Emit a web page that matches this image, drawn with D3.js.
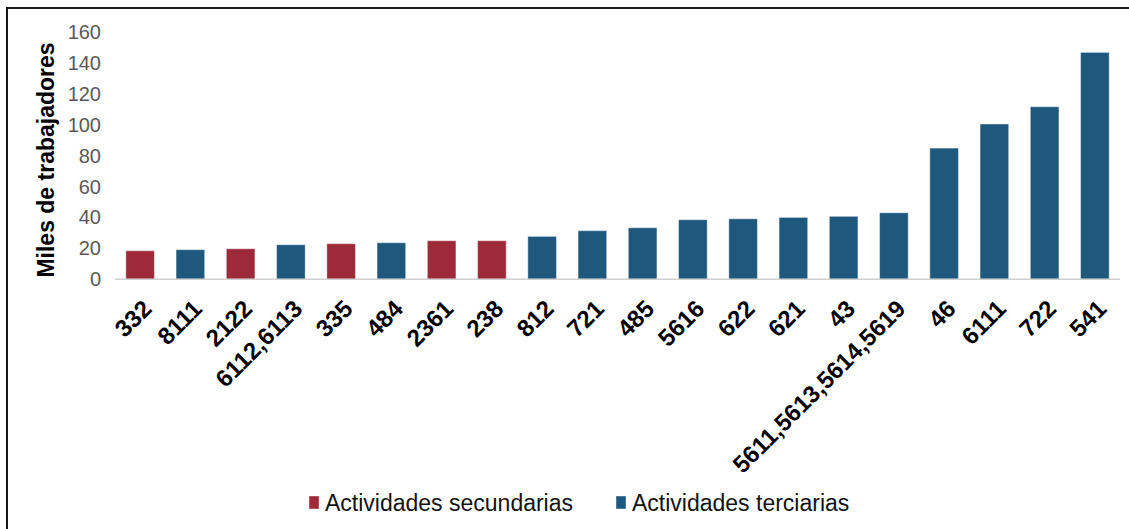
<!DOCTYPE html>
<html>
<head>
<meta charset="utf-8">
<script src="https://cdn.jsdelivr.net/npm/d3@7"></script>
<style>
  html, body { margin: 0; padding: 0; background: #fff; }
  svg { display: block; font-family: "Liberation Sans", Arial, sans-serif; }
</style>
</head>
<body>
<svg id="chart" width="1129" height="529"></svg>
<script>
const categories = ["332","8111","2122","6112,6113","335","484","2361","238","812","721","485","5616","622","621","43","5611,5613,5614,5619","46","6111","722","541"];
const values = [18.5, 19.2, 19.8, 22.4, 23.1, 23.7, 25.0, 25.0, 27.8, 31.5, 33.4, 38.6, 39.2, 40.1, 40.8, 43.1, 85.0, 100.6, 111.8, 147.0];
const sectors = ["sec","ter","sec","ter","sec","ter","sec","sec","ter","ter","ter","ter","ter","ter","ter","ter","ter","ter","ter","ter"];
const yTicks = [0, 20, 40, 60, 80, 100, 120, 140, 160];
const legendLabels = ["Actividades secundarias", "Actividades terciarias"];
const sectorKeys = ["sec", "ter"];
const colors = { sec: "#9E2A39", ter: "#1E587C" };

const svg = d3.select("#chart");

// frame
svg.append("line").attr("x1", 7).attr("x2", 7).attr("y1", 8).attr("y2", 529)
  .attr("stroke", "#1a1a1a").attr("stroke-width", 2);
svg.append("line").attr("x1", 6).attr("x2", 1129).attr("y1", 8).attr("y2", 8)
  .attr("stroke", "#1a1a1a").attr("stroke-width", 2);

const x = d3.scaleBand().domain(categories).range([115, 1120]).paddingInner(0.43).paddingOuter(0.215);
const y = d3.scaleLinear().domain([0, 160]).range([279.3, 32.3]);

// y tick labels
const yAxis = d3.axisLeft(y).tickValues(yTicks).tickSize(0).tickPadding(0);
const gy = svg.append("g").attr("transform", "translate(101,0)").call(yAxis);
gy.select(".domain").remove();
gy.selectAll("text").attr("font-size", 20).attr("fill", "#595959")
  .attr("font-family", "Liberation Sans, Arial, sans-serif");

// y title
svg.append("text")
  .attr("transform", "translate(54,160) rotate(-90)")
  .attr("text-anchor", "middle")
  .attr("font-size", 23).attr("font-weight", "bold").attr("fill", "#000")
  .text("Miles de trabajadores");

// bars
svg.append("g").selectAll("rect").data(categories).join("rect")
  .attr("x", d => x(d))
  .attr("width", x.bandwidth())
  .attr("y", (d, i) => y(values[i]))
  .attr("height", (d, i) => y(0) - y(values[i]))
  .attr("fill", (d, i) => colors[sectors[i]])
  .attr("stroke", "rgba(255,255,255,0.45)").attr("stroke-width", 1);

// baseline
svg.append("line").attr("x1", 115).attr("x2", 1120).attr("y1", y(0)).attr("y2", y(0))
  .attr("stroke", "#d0d0d0").attr("stroke-width", 1.5);

// x labels
svg.append("g").selectAll("text").data(categories).join("text")
  .attr("transform", d => `translate(${x(d) + x.bandwidth() / 2 + 13},${y(0) + 31}) rotate(-45)`)
  .attr("text-anchor", "end")
  .attr("font-size", 24).attr("font-weight", "bold").attr("fill", "#000")
  .text(d => d);

// legend
const legend = svg.append("g");
const legendX = [309, 616];
legendLabels.forEach((lab, i) => {
  legend.append("rect").attr("x", legendX[i]).attr("y", 496).attr("width", 10).attr("height", 13)
    .attr("fill", colors[sectorKeys[i]]).attr("stroke", "rgba(255,255,255,0.4)");
  legend.append("text").attr("x", legendX[i] + 16).attr("y", 511)
    .attr("font-size", 23).attr("fill", "#111").text(lab);
});
</script>
</body>
</html>
